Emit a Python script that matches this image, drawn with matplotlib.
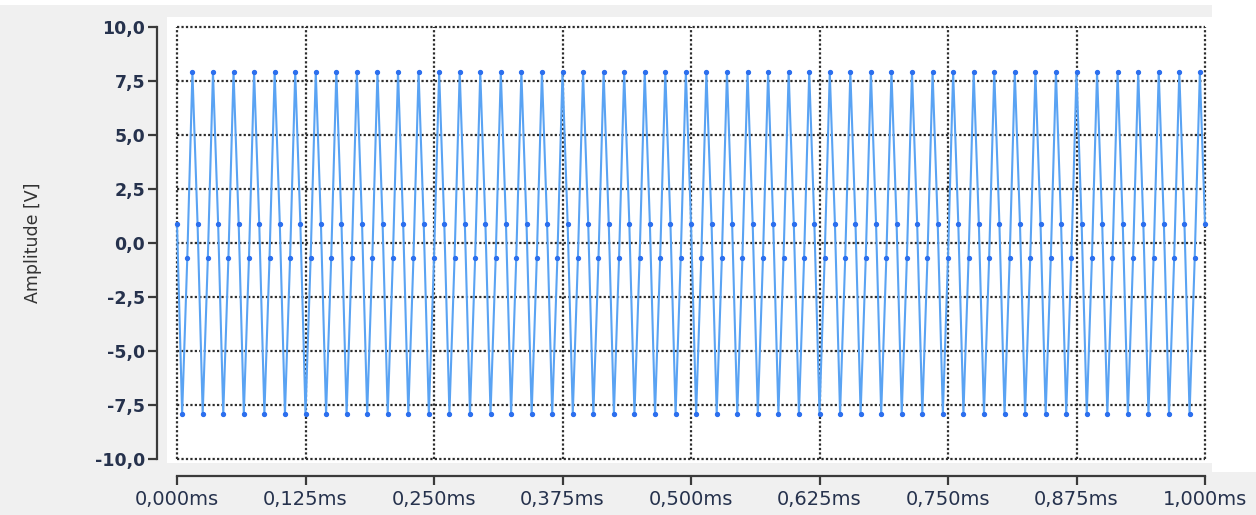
import numpy as np
import matplotlib
matplotlib.use("Agg")
import matplotlib.pyplot as plt
from matplotlib.patches import Rectangle

# ---- data ----
sample_times_ms = np.linspace(0.0, 1.0, 201)   # 200 kHz sampling grid
amplitude_v = [
    0.9, -7.9, -0.7, 7.9, 0.9, -7.9, -0.7, 7.9,
    0.9, -7.9, -0.7, 7.9, 0.9, -7.9, -0.7, 7.9,
    0.9, -7.9, -0.7, 7.9, 0.9, -7.9, -0.7, 7.9,
    0.9, -7.9, -0.7, 7.9, 0.9, -7.9, -0.7, 7.9,
    0.9, -7.9, -0.7, 7.9, 0.9, -7.9, -0.7, 7.9,
    0.9, -7.9, -0.7, 7.9, 0.9, -7.9, -0.7, 7.9,
    0.9, -7.9, -0.7, 7.9, 0.9, -7.9, -0.7, 7.9,
    0.9, -7.9, -0.7, 7.9, 0.9, -7.9, -0.7, 7.9,
    0.9, -7.9, -0.7, 7.9, 0.9, -7.9, -0.7, 7.9,
    0.9, -7.9, -0.7, 7.9, 0.9, -7.9, -0.7, 7.9,
    0.9, -7.9, -0.7, 7.9, 0.9, -7.9, -0.7, 7.9,
    0.9, -7.9, -0.7, 7.9, 0.9, -7.9, -0.7, 7.9,
    0.9, -7.9, -0.7, 7.9, 0.9, -7.9, -0.7, 7.9,
    0.9, -7.9, -0.7, 7.9, 0.9, -7.9, -0.7, 7.9,
    0.9, -7.9, -0.7, 7.9, 0.9, -7.9, -0.7, 7.9,
    0.9, -7.9, -0.7, 7.9, 0.9, -7.9, -0.7, 7.9,
    0.9, -7.9, -0.7, 7.9, 0.9, -7.9, -0.7, 7.9,
    0.9, -7.9, -0.7, 7.9, 0.9, -7.9, -0.7, 7.9,
    0.9, -7.9, -0.7, 7.9, 0.9, -7.9, -0.7, 7.9,
    0.9, -7.9, -0.7, 7.9, 0.9, -7.9, -0.7, 7.9,
    0.9, -7.9, -0.7, 7.9, 0.9, -7.9, -0.7, 7.9,
    0.9, -7.9, -0.7, 7.9, 0.9, -7.9, -0.7, 7.9,
    0.9, -7.9, -0.7, 7.9, 0.9, -7.9, -0.7, 7.9,
    0.9, -7.9, -0.7, 7.9, 0.9, -7.9, -0.7, 7.9,
    0.9, -7.9, -0.7, 7.9, 0.9, -7.9, -0.7, 7.9,
    0.9,
]
x_ticks = [0.0, 0.125, 0.25, 0.375, 0.5, 0.625, 0.75, 0.875, 1.0]
x_tick_labels = ["0,000ms", "0,125ms", "0,250ms", "0,375ms", "0,500ms",
                 "0,625ms", "0,750ms", "0,875ms", "1,000ms"]
y_ticks = [10.0, 7.5, 5.0, 2.5, 0.0, -2.5, -5.0, -7.5, -10.0]
y_tick_labels = ["10,0", "7,5", "5,0", "2,5", "0,0", "-2,5", "-5,0", "-7,5", "-10,0"]
y_label = "Amplitude [V]"

# ---- figure ----
W, H = 1256, 515
fig = plt.figure(figsize=(W / 100, H / 100), dpi=100)
fig.patch.set_facecolor("#f0f0f0")

def px_rect(x0, y0, x1, y1, color):
    fig.add_artist(Rectangle((x0 / W, 1 - y1 / H), (x1 - x0) / W, (y1 - y0) / H,
                             transform=fig.transFigure, facecolor=color,
                             edgecolor="none", zorder=0))

px_rect(0, 0, W, 5, "white")          # top strip
px_rect(1212, 0, W, 472, "white")     # right strip
px_rect(167, 17, 1212, 463, "white")  # plot background

left, right, top, bottom = 177, 1205, 27, 459
ax = fig.add_axes([left / W, 1 - bottom / H, (right - left) / W, (bottom - top) / H])
ax.set_facecolor("none")
ax.set_xlim(0, 1.0)
ax.set_ylim(-10, 10)

grid_kw = dict(color="#2e2e2e", lw=1.6, linestyle=(0, (1, 1)), clip_on=False, zorder=1)
for yv in y_ticks:
    ax.axhline(yv, **grid_kw)
for xv in x_ticks:
    ax.axvline(xv, **grid_kw)

ax.plot(sample_times_ms, amplitude_v, color="#5aa3f3", lw=1.5, zorder=3,
        marker="o", markersize=2.8, markerfacecolor="#2c6fee",
        markeredgecolor="#2c6fee", clip_on=False)

for s in ["top", "right"]:
    ax.spines[s].set_visible(False)
ax.spines["left"].set_position(("outward", 14.4))
ax.spines["bottom"].set_position(("outward", 12.5))
for s in ["left", "bottom"]:
    ax.spines[s].set_linewidth(1.6)
    ax.spines[s].set_color("#3a3a3a")

ax.set_xticks(x_ticks)
ax.set_xticklabels(x_tick_labels)
ax.set_yticks(y_ticks)
ax.set_yticklabels(y_tick_labels)
ax.tick_params(axis="both", direction="out", length=6.5, width=1.6, color="#3a3a3a",
               labelcolor="#26324d")
ax.tick_params(axis="x", pad=3, labelsize=14)
ax.tick_params(axis="y", pad=2, labelsize=12.5)
for lab in ax.get_yticklabels():
    lab.set_fontweight("bold")

fig.text(33 / W, 1 - 243 / H, y_label, rotation=90, ha="center", va="center",
         fontsize=12.5, color="#333333")

fig.savefig("out.png", dpi=100, facecolor=fig.get_facecolor())
